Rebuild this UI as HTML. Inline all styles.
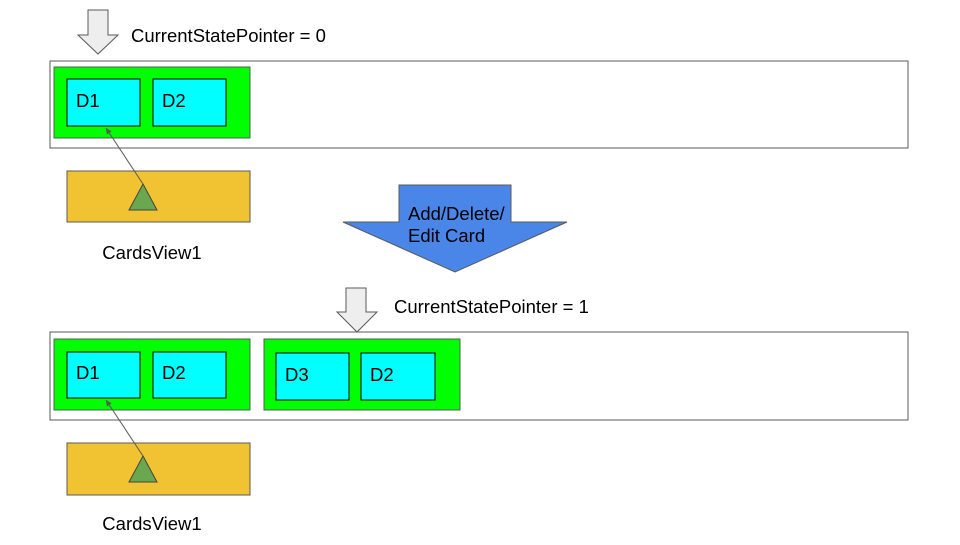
<!DOCTYPE html>
<html><head><style>body{margin:0;background:#fff}</style></head><body>
<svg width="960" height="540" xmlns="http://www.w3.org/2000/svg" font-family="Liberation Sans, Arial, sans-serif">
<defs><marker id="a" markerWidth="8" markerHeight="8" refX="6" refY="3" orient="auto" markerUnits="userSpaceOnUse"><path d="M0,0 L6,3 L0,6 z" fill="#595959"/></marker></defs>
<path d="M88,10 H108 V35 H118 L98,54 L78,35 H88 Z" fill="#eeeeee" stroke="#595959"/>
<text x="131" y="42" font-size="18.5">CurrentStatePointer = 0</text>
<rect x="50" y="61" width="858" height="87" fill="#fff" stroke="#595959"/>
<rect x="54" y="67" width="196" height="71" fill="#00ff00" stroke="#595959"/>
<rect x="67" y="79" width="73" height="47" fill="#00ffff" stroke="#000"/>
<rect x="153" y="79" width="73" height="47" fill="#00ffff" stroke="#000"/>
<text x="76" y="107" font-size="18.5">D1</text>
<text x="162" y="107" font-size="18.5">D2</text>
<rect x="67" y="171" width="183" height="51" fill="#f1c232" stroke="#595959"/>
<polygon points="143,184 157,210 129,210" fill="#6aa84f" stroke="#434343"/>
<line x1="143" y1="184" x2="106" y2="128" stroke="#595959" marker-end="url(#a)"/>
<text x="152" y="259" font-size="18.5" text-anchor="middle">CardsView1</text>
<path d="M399,185 H511 V222 H567 L455,272 L343,222 H399 Z" fill="#4a86e8" stroke="#595959"/>
<text x="408" y="220" font-size="18.5">Add/Delete/</text>
<text x="408" y="242" font-size="18.5">Edit Card</text>
<path d="M346,288 H366 V312 H377 L357,332 L337,312 H346 Z" fill="#eeeeee" stroke="#595959"/>
<text x="394" y="313" font-size="18.5">CurrentStatePointer = 1</text>
<rect x="50" y="332" width="858" height="88" fill="#fff" stroke="#595959"/>
<rect x="54" y="339" width="196" height="71" fill="#00ff00" stroke="#595959"/>
<rect x="67" y="352" width="73" height="46" fill="#00ffff" stroke="#000"/>
<rect x="153" y="352" width="73" height="46" fill="#00ffff" stroke="#000"/>
<text x="76" y="379" font-size="18.5">D1</text>
<text x="162" y="379" font-size="18.5">D2</text>
<rect x="264" y="339" width="196" height="71" fill="#00ff00" stroke="#595959"/>
<rect x="276" y="353" width="73" height="47" fill="#00ffff" stroke="#000"/>
<rect x="361" y="353" width="74" height="47" fill="#00ffff" stroke="#000"/>
<text x="285" y="381" font-size="18.5">D3</text>
<text x="370" y="381" font-size="18.5">D2</text>
<rect x="67" y="443" width="183" height="52" fill="#f1c232" stroke="#595959"/>
<polygon points="143,456 157,482 129,482" fill="#6aa84f" stroke="#434343"/>
<line x1="143" y1="456" x2="106" y2="400" stroke="#595959" marker-end="url(#a)"/>
<text x="152" y="530" font-size="18.5" text-anchor="middle">CardsView1</text>
</svg>
</body></html>
